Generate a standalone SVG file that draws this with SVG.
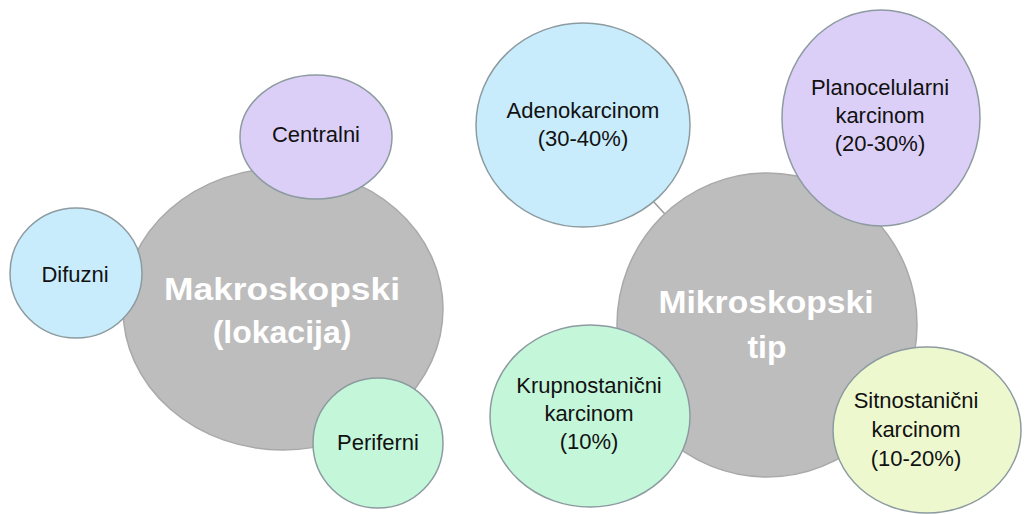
<svg xmlns="http://www.w3.org/2000/svg" width="1026" height="514" viewBox="0 0 1026 514">
<style>
.hub{fill:#bdbdbd;stroke:#a9a9a9;stroke-width:1.5}
.sat{stroke:#8d9ba0;stroke-width:1.5}
.blue{fill:#c8ecfb}.purple{fill:#dccff7}.green{fill:#c4f6da}.yellow{fill:#edf8cf}
.lbl{font-family:"Liberation Sans",Arial,sans-serif;font-size:22px;fill:#111;text-anchor:middle}
.big{font-family:"Liberation Sans",Arial,sans-serif;font-size:32px;font-weight:bold;fill:#fff;text-anchor:middle}
.conn{stroke:#9a9a9a;stroke-width:1.5;fill:none}
</style>
<rect width="1026" height="514" fill="#fff"/>
<g id="connectors">
<line class="conn" x1="283" y1="309" x2="316" y2="137"/>
<line class="conn" x1="283" y1="309" x2="76" y2="273"/>
<line class="conn" x1="283" y1="309" x2="378" y2="443"/>
<line class="conn" x1="767" y1="325" x2="583" y2="125"/>
<line class="conn" x1="767" y1="325" x2="881" y2="118"/>
<line class="conn" x1="767" y1="325" x2="590" y2="416"/>
<line class="conn" x1="767" y1="325" x2="927" y2="430"/>
</g>
<g id="makroskopski">
<ellipse class="hub" cx="283" cy="309" rx="160" ry="141"/>
<text class="big" x="282" y="300" textLength="236" lengthAdjust="spacingAndGlyphs">Makroskopski</text>
<text class="big" x="282" y="343">(lokacija)</text>
</g>
<g id="centralni">
<ellipse class="sat purple" cx="316" cy="137" rx="76" ry="62"/>
<text class="lbl" x="316" y="142">Centralni</text>
</g>
<g id="difuzni">
<ellipse class="sat blue" cx="76" cy="273" rx="66" ry="65"/>
<text class="lbl" x="75" y="282">Difuzni</text>
</g>
<g id="periferni">
<ellipse class="sat green" cx="378" cy="443" rx="65" ry="65"/>
<text class="lbl" x="378" y="450">Periferni</text>
</g>
<g id="mikroskopski">
<ellipse class="hub" cx="767" cy="325" rx="150" ry="152"/>
<text class="big" x="766" y="313" textLength="215" lengthAdjust="spacingAndGlyphs">Mikroskopski</text>
<text class="big" x="767" y="358">tip</text>
</g>
<g id="adenokarcinom">
<ellipse class="sat blue" cx="583" cy="125" rx="107" ry="102"/>
<text class="lbl" x="583" y="118">Adenokarcinom</text>
<text class="lbl" x="583" y="146">(30-40%)</text>
</g>
<g id="planocelularni">
<ellipse class="sat purple" cx="881" cy="118" rx="99" ry="108"/>
<text class="lbl" x="880" y="95">Planocelularni</text>
<text class="lbl" x="880" y="123">karcinom</text>
<text class="lbl" x="880" y="151">(20-30%)</text>
</g>
<g id="krupnostanicni">
<ellipse class="sat green" cx="590" cy="416" rx="100" ry="91"/>
<text class="lbl" x="589" y="393">Krupnostanični</text>
<text class="lbl" x="589" y="421">karcinom</text>
<text class="lbl" x="589" y="449">(10%)</text>
</g>
<g id="sitnostanicni">
<ellipse class="sat yellow" cx="927" cy="430" rx="94" ry="83"/>
<text class="lbl" x="916" y="408">Sitnostanični</text>
<text class="lbl" x="916" y="437">karcinom</text>
<text class="lbl" x="916" y="466">(10-20%)</text>
</g>
</svg>
